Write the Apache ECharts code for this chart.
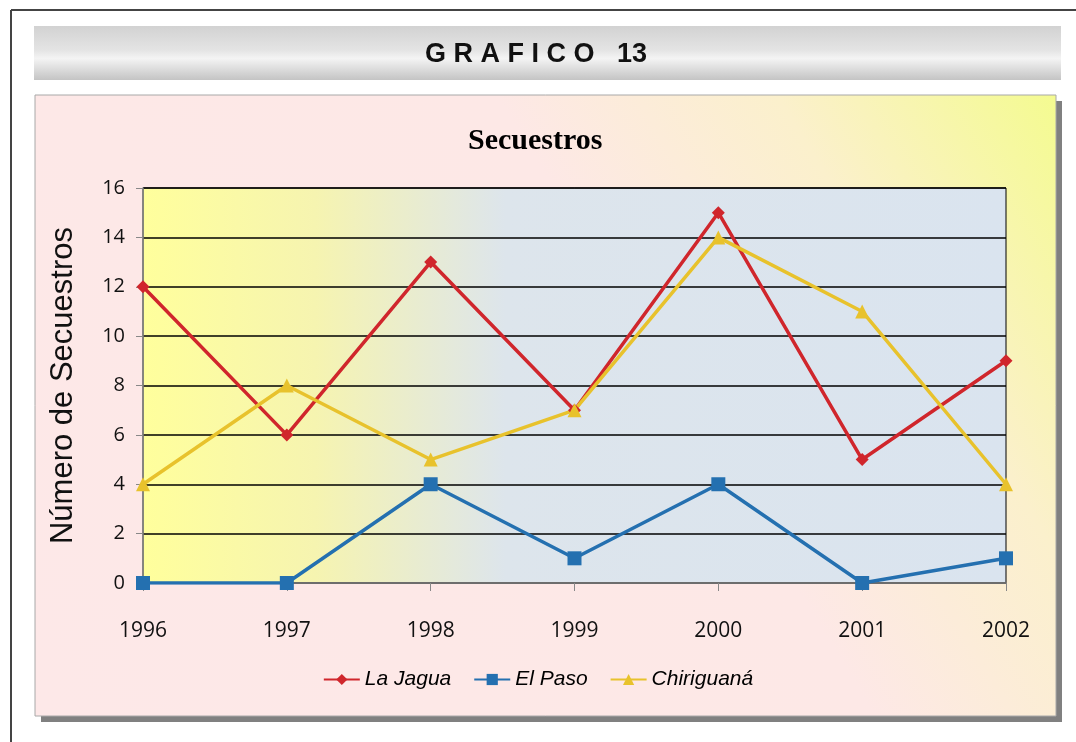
<!DOCTYPE html>
<html>
<head>
<meta charset="utf-8">
<script src="https://cdn.jsdelivr.net/npm/echarts@6/dist/echarts.min.js"></script>
<style>
  html, body { margin: 0; padding: 0; background: #fff; }
  #main { width: 1076px; height: 742px; }
</style>
</head>
<body>
<div id="main"></div>
<script>
var years = ['1996', '1997', '1998', '1999', '2000', '2001', '2002'];
var laJagua = [12, 6, 13, 7, 15, 5, 9];
var elPaso = [0, 0, 4, 1, 4, 0, 1];
var chiriguana = [4, 8, 5, 7, 14, 11, 4];

var chart = echarts.init(document.getElementById('main'));

var option = {
  backgroundColor: '#fff',
  animation: false,
  color: ['#d0262c', '#2470b0', '#e8c22c'],
  graphic: [
    // marco exterior
    { type: 'line', shape: { x1: 11, y1: 10, x2: 1076, y2: 10 }, style: { stroke: '#444', lineWidth: 2 } },
    { type: 'line', shape: { x1: 11, y1: 10, x2: 11, y2: 742 }, style: { stroke: '#444', lineWidth: 2 } },
    // banda del titulo
    {
      type: 'rect', shape: { x: 34, y: 26, width: 1027, height: 54 },
      style: {
        fill: new echarts.graphic.LinearGradient(0, 0, 0, 1, [
          { offset: 0, color: '#d2d2d2' },
          { offset: 0.45, color: '#e4e4e4' },
          { offset: 0.6, color: '#f4f4f4' },
          { offset: 1, color: '#c4c4c4' }
        ])
      }
    },
    {
      type: 'text', x: 536, y: 55,
      style: {
        text: 'G R A F I C O   13', fill: '#111',
        font: 'bold 27px "Liberation Sans Narrow", "Liberation Sans", Arial, sans-serif',
        textAlign: 'center', textVerticalAlign: 'middle'
      }
    },
    // sombra del panel
    {
      type: 'rect', z: -2, shape: { x: 41, y: 101, width: 1021, height: 621 },
      style: { fill: '#808080' }
    },
    // panel del grafico
    {
      type: 'rect', z: -1, shape: { x: 35, y: 95, width: 1021, height: 621 },
      style: {
        fill: new echarts.graphic.LinearGradient(0, 1, 1, 0, [
          { offset: 0, color: '#fde8e8' },
          { offset: 0.6, color: '#fde8e6' },
          { offset: 0.8, color: '#fbf0cc' },
          { offset: 1, color: '#f4fb90' }
        ]),
        stroke: '#a8a8a8', lineWidth: 1
      }
    }
  ],
  title: {
    text: 'Secuestros',
    left: 463,
    top: 121,
    textStyle: { fontFamily: '"Liberation Serif", "Times New Roman", serif', fontWeight: 'bold', fontSize: 30, color: '#000' }
  },
  legend: {
    bottom: 47,
    left: 'center',
    itemWidth: 36,
    itemHeight: 14,
    itemGap: 22,
    textStyle: { fontFamily: '"Liberation Sans", Arial, sans-serif', fontStyle: 'italic', fontSize: 21, color: '#000' },
    data: ['La Jagua', 'El Paso', 'Chiriguaná']
  },
  grid: {
    left: 143, right: 70, top: 188, bottom: 159,
    show: true,
    borderColor: '#000', borderWidth: 1,
    backgroundColor: new echarts.graphic.LinearGradient(0, 0, 1, 0, [
      { offset: 0, color: '#ffff9c' },
      { offset: 0.2, color: '#f6f4b0' },
      { offset: 0.42, color: '#dde5ec' },
      { offset: 1, color: '#dae4ef' }
    ])
  },
  xAxis: {
    type: 'category',
    data: years,
    boundaryGap: false,
    axisLine: { lineStyle: { color: '#888', width: 1.5 } },
    axisTick: { show: true, length: 8, inside: false, lineStyle: { color: '#888' } },
    axisLabel: { margin: 38, fontFamily: '"Open Sans", Arial, sans-serif', fontSize: 21, color: '#111' }
  },
  yAxis: {
    type: 'value',
    min: 0, max: 16, interval: 2,
    name: 'Número de Secuestros',
    nameLocation: 'middle',
    nameGap: 64,
    nameTextStyle: { fontFamily: '"Liberation Sans", Arial, sans-serif', fontSize: 31, color: '#111' },
    axisLine: { show: true, lineStyle: { color: '#888', width: 1.5 } },
    axisTick: { show: true, length: 7, lineStyle: { color: '#888' } },
    axisLabel: { margin: 18, fontFamily: '"Open Sans", Arial, sans-serif', fontSize: 20, color: '#111' },
    splitLine: { lineStyle: { color: '#000', width: 1.5 } }
  },
  series: [
    {
      name: 'La Jagua', type: 'line', data: laJagua,
      symbol: 'diamond', symbolSize: 13,
      lineStyle: { width: 3.5 }
    },
    {
      name: 'El Paso', type: 'line', data: elPaso,
      symbol: 'rect', symbolSize: 14,
      lineStyle: { width: 3.5 }
    },
    {
      name: 'Chiriguaná', type: 'line', data: chiriguana,
      symbol: 'triangle', symbolSize: 14,
      lineStyle: { width: 3.5 }
    }
  ]
};

chart.setOption(option);
</script>
</body>
</html>
